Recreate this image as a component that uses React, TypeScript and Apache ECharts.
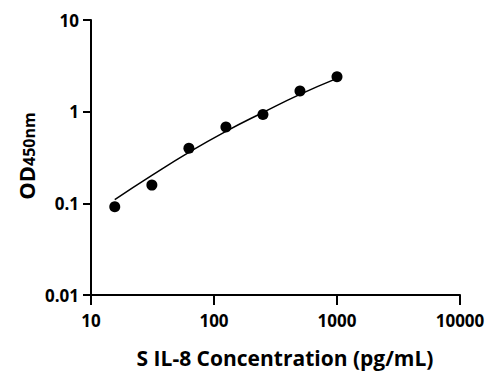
import React, { useEffect, useRef } from "react";
import * as echarts from "echarts";

const concentrations = [15.6, 31.25, 62.5, 125, 250, 500, 1000];
const odValues = [0.092, 0.158, 0.4, 0.68, 0.93, 1.68, 2.4];
const fitConc = [15.6, 31.25, 62.5, 125, 250, 500, 1000];
const fitOd = [0.11, 0.202, 0.36, 0.61, 0.98, 1.545, 2.31];
const xTicks = [10, 100, 1000, 10000];
const yTicks = [0.01, 0.1, 1, 10];

const FONT = "'Open Sans', 'DejaVu Sans', sans-serif";

export default function App() {
  const ref = useRef<HTMLDivElement>(null);
  useEffect(() => {
    if (!ref.current) return;
    const chart = echarts.init(ref.current, undefined, { renderer: "svg" });
    const fmt = (v: number) => String(parseFloat(Number(v).toPrecision(3)));
    chart.setOption({
      animation: false,
      backgroundColor: "#ffffff",
      grid: { left: 91, right: 39, top: 20, bottom: 91 },
      xAxis: {
        type: "log",
        logBase: 10,
        min: xTicks[0],
        max: xTicks[xTicks.length - 1],
        axisLine: { lineStyle: { color: "#000", width: 2 } },
        axisTick: { show: true, length: 10, lineStyle: { color: "#000", width: 2 } },
        minorTick: { show: false },
        splitLine: { show: false },
        axisLabel: {
          color: "#000",
          fontFamily: FONT,
          fontWeight: "bold",
          fontSize: 17,
          margin: 17,
          formatter: fmt,
        },
      },
      yAxis: {
        type: "log",
        logBase: 10,
        min: yTicks[0],
        max: yTicks[yTicks.length - 1],
        axisLine: { show: true, lineStyle: { color: "#000", width: 2 } },
        axisTick: { show: true, length: 8, lineStyle: { color: "#000", width: 2 } },
        minorTick: { show: false },
        splitLine: { show: false },
        axisLabel: {
          color: "#000",
          fontFamily: FONT,
          fontWeight: "bold",
          fontSize: 17,
          margin: 12,
          formatter: fmt,
        },
      },
      graphic: [
        {
          type: "text",
          x: 285,
          y: 358,
          style: {
            text: "S IL-8 Concentration (pg/mL)",
            fontFamily: FONT,
            fontWeight: "bold",
            fontSize: 21,
            fill: "#000",
            align: "center",
            verticalAlign: "middle",
          },
        },
        {
          type: "text",
          x: 24,
          y: 156,
          rotation: Math.PI / 2,
          style: {
            text: "{a|OD}{b|450nm}",
            align: "center",
            verticalAlign: "middle",
            rich: {
              a: { fontFamily: FONT, fontWeight: "bold", fontSize: 22, fill: "#000", verticalAlign: "bottom", lineHeight: 26 },
              b: { fontFamily: FONT, fontWeight: "bold", fontSize: 16, fill: "#000", verticalAlign: "bottom", lineHeight: 22 },
            },
          },
        },
      ],
      series: [
        {
          type: "line",
          data: fitConc.map((c, i) => [c, fitOd[i]]),
          smooth: true,
          showSymbol: false,
          symbol: "none",
          lineStyle: { color: "#000", width: 1.5 },
          z: 1,
        },
        {
          type: "scatter",
          data: concentrations.map((c, i) => [c, odValues[i]]),
          symbol: "circle",
          symbolSize: 11,
          itemStyle: { color: "#000", opacity: 1 },
          z: 2,
        },
      ],
    });
    return () => chart.dispose();
  }, []);
  return <div ref={ref} style={{ width: 499, height: 386, position: "absolute", left: 0, top: 0 }} />;
}
